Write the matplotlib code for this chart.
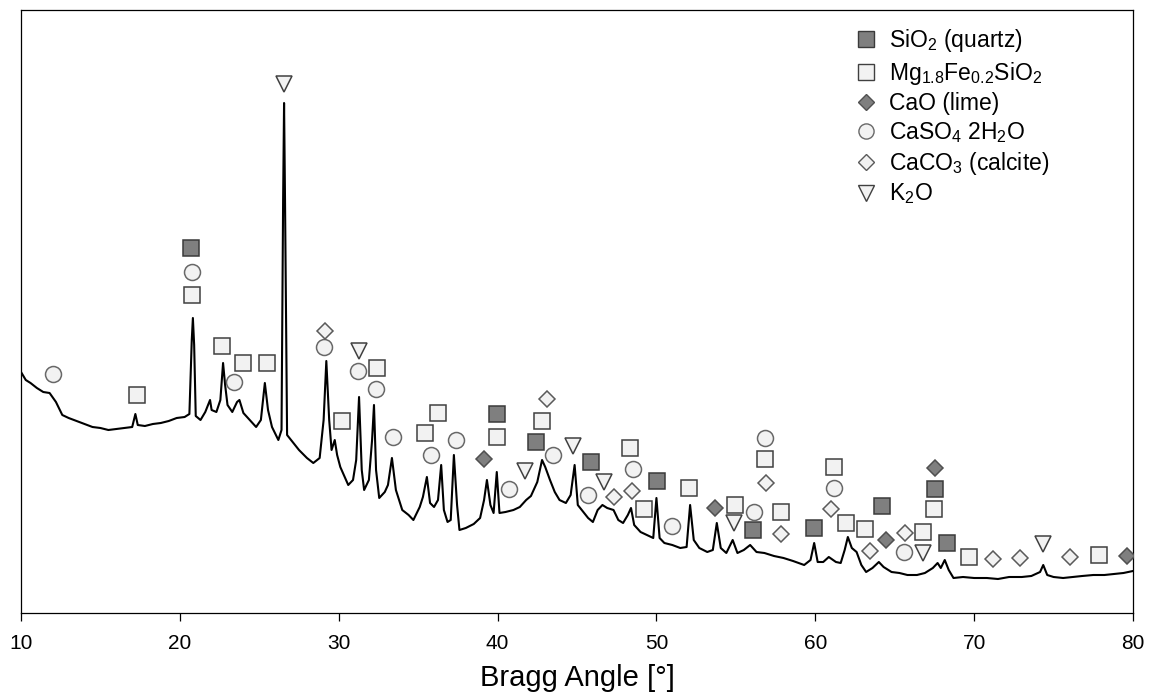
import matplotlib
matplotlib.use("Agg")
import matplotlib.pyplot as plt
from matplotlib.lines import Line2D

plt.rcParams["font.family"] = ["Liberation Sans", "DejaVu Sans"]
plt.rcParams["mathtext.default"] = "regular"

# ── XRD trace (2theta [deg], intensity [a.u.]) ────────────────────────────
two_theta = [
    10.0, 10.3, 10.6, 11.0, 11.4, 11.8, 12.2, 12.6, 13.0, 13.5, 14.0, 14.5, 15.0, 15.5,
    16.0, 16.5, 17.0, 17.2, 17.35, 17.8, 18.3, 18.8, 19.3, 19.8, 20.3, 20.6, 20.75, 20.82,
    20.9, 21.0, 21.3, 21.6, 21.9, 22.0, 22.3, 22.55, 22.72, 22.85, 23.0, 23.3, 23.6, 23.75,
    24.0, 24.4, 24.8, 25.1, 25.35, 25.55, 25.8, 26.2, 26.4, 26.5, 26.56, 26.62, 26.75, 27.0,
    27.5, 28.0, 28.4, 28.8, 29.05, 29.22, 29.4, 29.55, 29.75, 29.9, 30.1, 30.6, 30.9, 31.1,
    31.28, 31.45, 31.6, 31.9, 32.1, 32.22, 32.35, 32.55, 32.9, 33.1, 33.35, 33.6, 34.0, 34.4,
    34.7, 35.1, 35.3, 35.55, 35.75, 36.0, 36.25, 36.45, 36.62, 36.85, 37.05, 37.25, 37.45, 37.6,
    38.0, 38.5, 38.9, 39.15, 39.33, 39.55, 39.75, 39.95, 40.12, 40.5, 41.0, 41.4, 41.8, 42.1,
    42.5, 42.8, 43.0, 43.3, 43.6, 43.9, 44.3, 44.6, 44.85, 45.05, 45.3, 45.7, 46.0, 46.3,
    46.6, 46.9, 47.3, 47.6, 47.9, 48.2, 48.4, 48.6, 49.0, 49.4, 49.8, 50.0, 50.2, 50.5,
    51.0, 51.5, 51.9, 52.12, 52.35, 52.7, 53.2, 53.55, 53.8, 54.05, 54.4, 54.8, 55.1, 55.5,
    55.9, 56.3, 56.8, 57.4, 58.0, 58.6, 59.3, 59.7, 59.93, 60.15, 60.5, 60.85, 61.3, 61.6,
    61.85, 62.05, 62.3, 62.6, 62.9, 63.2, 63.6, 64.0, 64.3, 64.8, 65.3, 65.8, 66.4, 66.9,
    67.4, 67.7, 67.9, 68.15, 68.4, 68.7, 69.3, 70.0, 70.8, 71.5, 72.2, 73.0, 73.6, 74.15,
    74.35, 74.6, 75.0, 75.6, 76.2, 76.8, 77.5, 78.2, 78.8, 79.4, 80.0,
]
intensity = [
    241, 233, 230, 225, 221, 220, 211, 198, 195, 192, 189, 186, 185, 183,
    184, 185, 186, 199, 188, 187, 189, 190, 192, 195, 196, 199, 273, 295,
    268, 197, 193, 201, 213, 203, 201, 213, 250, 228, 208, 201, 211, 213,
    200, 193, 186, 193, 230, 203, 186, 173, 183, 413, 510, 413, 178, 173,
    163, 155, 150, 155, 193, 252, 193, 163, 173, 158, 146, 128, 133, 153,
    216, 143, 123, 133, 173, 208, 143, 115, 121, 128, 155, 123, 103, 98,
    93, 106, 116, 136, 110, 106, 113, 148, 103, 91, 93, 158, 108, 83,
    85, 89, 95, 113, 133, 108, 100, 141, 100, 101, 103, 106, 113, 117,
    131, 153, 146, 133, 121, 113, 110, 118, 148, 108, 103, 95, 91, 103,
    108, 105, 103, 93, 90, 98, 105, 88, 81, 78, 75, 115, 75, 70,
    68, 65, 66, 108, 73, 65, 61, 63, 90, 65, 60, 73, 60, 63,
    68, 61, 60, 57, 55, 52, 48, 53, 70, 51, 51, 56, 51, 50,
    63, 76, 65, 61, 48, 41, 45, 51, 46, 41, 40, 38, 38, 40,
    45, 50, 45, 53, 43, 35, 36, 35, 35, 34, 36, 36, 37, 41,
    48, 38, 36, 35, 36, 37, 38, 38, 39, 40, 42,
]

# ── phase markers (position, marker height) ─────────────────────────────
quartz_x = [20.72, 39.98, 42.42, 45.88, 50.02, 56.05, 59.94, 64.18, 67.53, 68.32]
quartz_y = [365, 199, 171, 151, 132, 83, 85, 107, 124, 70]

olivine_x = [17.28, 20.78, 22.63, 23.95, 25.47, 30.2, 32.43, 35.45, 36.27, 39.94, 42.82, 48.33,
             49.24, 52.07, 54.94, 56.82, 57.82, 61.19, 61.94, 63.12, 66.79, 67.48, 69.67, 77.86]
olivine_y = [218, 318, 267, 250, 250, 192, 245, 180, 200, 176, 192, 165,
             104, 125, 108, 154, 101, 146, 90, 84, 81, 104, 56, 58]

lime_x = [39.17, 53.67, 64.44, 67.53, 79.62]
lime_y = [154, 105, 73, 145, 57]

gypsum_x = [12.03, 20.74, 23.41, 29.07, 31.23, 32.33, 33.4, 35.79, 37.36, 40.74, 43.51, 45.67,
            48.55, 50.98, 56.15, 56.82, 61.19, 65.6]
gypsum_y = [239, 341, 231, 266, 242, 224, 176, 158, 173, 124, 158, 118,
            144, 87, 101, 175, 125, 61]

calcite_x = [29.14, 43.09, 47.36, 48.48, 56.88, 57.84, 60.96, 63.47, 65.67, 71.19, 72.89, 76.06]
calcite_y = [282, 214, 116, 122, 130, 79, 104, 62, 80, 54, 55, 56]

k2o_x = [26.56, 31.28, 41.73, 44.77, 46.68, 54.87, 66.77, 74.33]
k2o_y = [529, 262, 142, 167, 131, 90, 60, 69]

labels = [r"SiO$_2$ (quartz)", r"Mg$_{1.8}$Fe$_{0.2}$SiO$_2$", "CaO (lime)",
          r"CaSO$_4$ 2H$_2$O", r"CaCO$_3$ (calcite)", r"K$_2$O"]

DARK, LIGHT = "#7f7f7f", "#f2f2f2"
styles = [
    dict(marker="s", ms=11.5, mfc=DARK, mec="#3a3a3a"),
    dict(marker="s", ms=11.5, mfc=LIGHT, mec="#404040"),
    dict(marker="D", ms=8.5, mfc=DARK, mec="#505050"),
    dict(marker="o", ms=11.5, mfc=LIGHT, mec="#686868"),
    dict(marker="D", ms=8.5, mfc=LIGHT, mec="#5a5a5a"),
    dict(marker="v", ms=12, mfc=LIGHT, mec="#404040"),
]
series = [(quartz_x, quartz_y), (olivine_x, olivine_y), (lime_x, lime_y),
          (gypsum_x, gypsum_y), (calcite_x, calcite_y), (k2o_x, k2o_y)]

fig = plt.figure(figsize=(11.5, 7), dpi=100)
ax = fig.add_axes([21 / 1150, 1 - 613 / 700, 1112 / 1150, 603 / 700])

ax.plot(two_theta, intensity, color="black", lw=1.5, zorder=2)
for (xs, ys), st in zip(series, styles):
    ax.plot(xs, ys, ls="none", mew=1.1, zorder=3, **st)

ax.set_xlim(10, 80)
ax.set_ylim(0, 603)
ax.set_xticks(range(10, 81, 10))
ax.set_yticks([])
ax.tick_params(axis="x", direction="out", length=6, width=0.9, labelsize=15, pad=9)
for sp in ax.spines.values():
    sp.set_linewidth(0.9)
ax.set_xlabel("Bragg Angle [°]", fontsize=21, labelpad=8)

# legend
handles = [Line2D([], [], ls="none", mew=1.0, **{**st, "ms": st["ms"] * 0.95}) for st in styles]
ax.legend(handles, labels, loc="upper left", bbox_to_anchor=(0.752, 0.971), frameon=False,
          fontsize=16.5, handlelength=0.8, handletextpad=0.6, labelspacing=0.22,
          borderpad=0, borderaxespad=0)

fig.savefig("out.png", dpi=100)
